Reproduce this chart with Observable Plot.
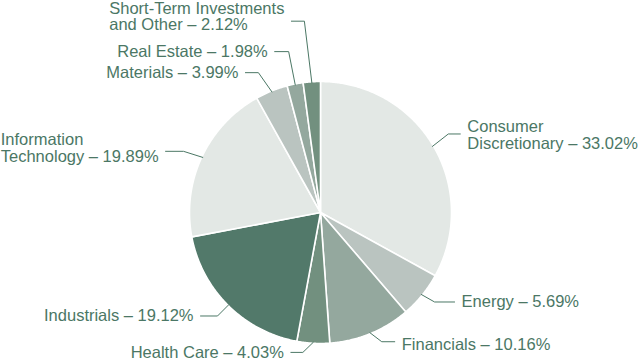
<!DOCTYPE html>
<html><head><meta charset="utf-8">
<script src="https://cdn.jsdelivr.net/npm/d3@7"></script>
<script src="https://cdn.jsdelivr.net/npm/@observablehq/plot@0.6"></script>
<style>body{margin:0;background:#fff}</style>
</head><body><div id="chart"></div>
<script>
// ---- data ----
const categories = ["Consumer Discretionary", "Energy", "Financials", "Health Care", "Industrials", "Information Technology", "Materials", "Real Estate", "Short-Term Investments and Other"];
const displayNames = ["Consumer\nDiscretionary", "Energy", "Financials", "Health Care", "Industrials", "Information\nTechnology", "Materials", "Real Estate", "Short-Term Investments\nand Other"];
const values = [33.02, 5.69, 10.16, 4.03, 19.12, 19.89, 3.99, 1.98, 2.12];

// ---- styles / layout ----
const palette = ["#e3e8e5", "#bac4c0", "#94a89e", "#72907f", "#52796a", "#e3e8e5", "#bac4c0", "#94a89e", "#72907f"];
const W = 639, H = 362, cx = 320, cy = 212, R = 131;
const elbowR = [150, 145, 143, 141, 146, 150, 153, 164, 192];
const elbowShift = [-1, -1, -3, 4, 0, -1, -2, 0, -1]; // degrees
const hLen = [12, 20, 13, 12, 17, 18, 13, 14, 13];
const labelDy = [1.3, 0, 3, 0, 0, -3.3, 0, 0, -4.4];
const fontSize = 16.5;
const fontFamily = "'Liberation Sans', Arial, Helvetica, sans-serif";
const textColor = "#4b7765";
const gap = 7;

const total = d3.sum(values);
let acc = 0;
const slices = categories.map((name, i) => {
  const a0 = acc / total * 2 * Math.PI; acc += values[i];
  const a1 = acc / total * 2 * Math.PI;
  return {name, i, a0, a1, mid: (a0 + a1) / 2};
});
const pt = (a, r) => [cx + r * Math.sin(a), cy - r * Math.cos(a)];

const slicePts = slices.flatMap(s => {
  const n = Math.max(2, Math.ceil((s.a1 - s.a0) / (Math.PI / 360)));
  const pts = [{name: s.name, x: cx, y: cy}];
  for (let k = 0; k <= n; k++) {
    const [x, y] = pt(s.a0 + (s.a1 - s.a0) * k / n, R);
    pts.push({name: s.name, x, y});
  }
  return pts;
});

const ctx = document.createElement("canvas").getContext("2d");
ctx.font = `${fontSize}px ${fontFamily}`;

const leaderPts = [];
const labels = slices.map(s => {
  const i = s.i;
  const right = Math.sin(s.mid) > 0;
  const [sx, sy] = pt(s.mid, R - 1);
  const [ex, ey] = pt(s.mid + elbowShift[i] * Math.PI / 180, elbowR[i]);
  const hx = right ? ex + hLen[i] : ex - hLen[i];
  leaderPts.push({name: s.name, x: sx, y: sy}, {name: s.name, x: ex, y: ey}, {name: s.name, x: hx, y: ey});
  const text = `${displayNames[i]} – ${values[i].toFixed(2)}%`;
  const w = d3.max(text.split("\n"), l => ctx.measureText(l).width);
  let ax = right ? hx + gap : hx - gap - w;
  if (right) ax = Math.min(ax, W - 1 - w);
  return {name: s.name, text, x: ax, y: ey + labelDy[i]};
});

const chart = Plot.plot({
  width: W, height: H, margin: 0,
  x: {domain: [0, W], range: [0, W], axis: null},
  y: {domain: [0, H], range: [0, H], axis: null},
  color: {type: "ordinal", domain: categories, range: palette},
  style: {background: "white", overflow: "visible"},
  marks: [
    Plot.line(slicePts, {x: "x", y: "y", z: "name", fill: "name", stroke: "white", strokeWidth: 1.6, curve: "linear-closed", strokeLinejoin: "round"}),
    Plot.line(leaderPts, {x: "x", y: "y", z: "name", stroke: textColor, strokeWidth: 1}),
    Plot.text(labels, {x: "x", y: "y", text: "text", textAnchor: "start", lineAnchor: "middle", lineHeight: 1.0, fontSize, fontFamily, fill: textColor})
  ]
});
document.getElementById("chart").appendChild(chart);
</script>
</body></html>
